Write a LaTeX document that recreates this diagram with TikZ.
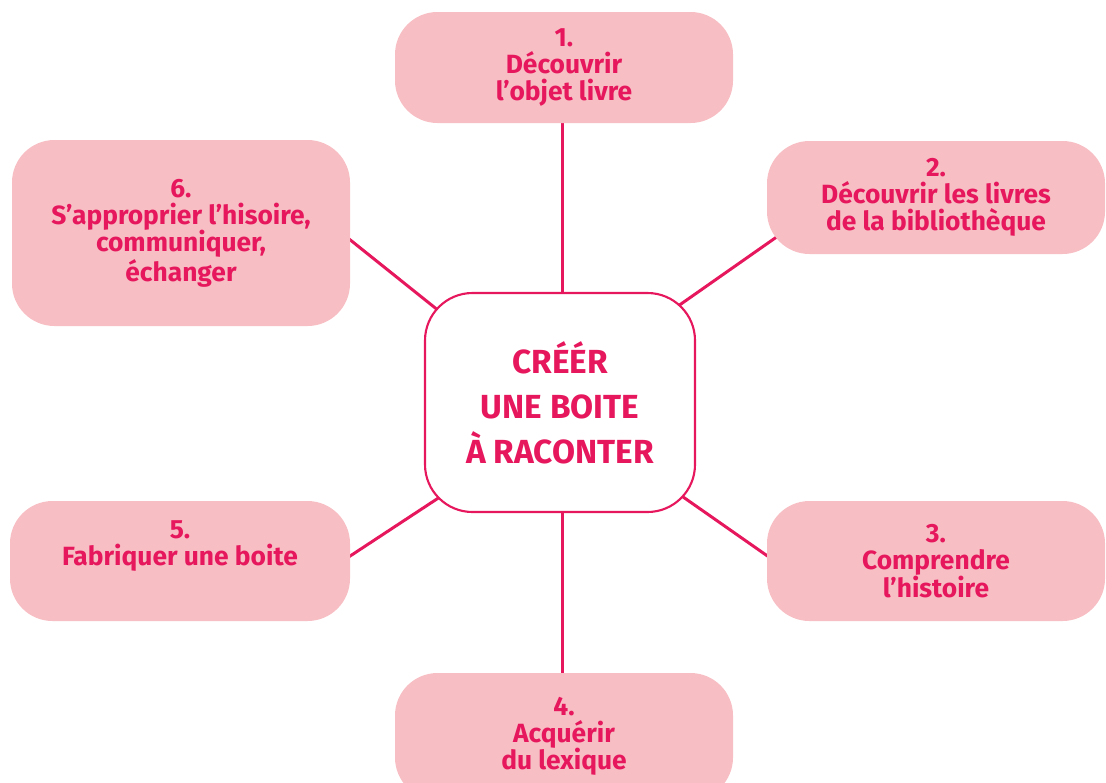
\documentclass[tikz,border=0pt]{standalone}
\usepackage{fontspec}
\setmainfont{Fira Sans}
\usepackage{tikz}
\usetikzlibrary{positioning,calc,backgrounds}
\definecolor{rose}{HTML}{F7BEC4}
\definecolor{magenta}{HTML}{E6175C}

\begin{document}
\begin{tikzpicture}[
		etape/.style={fill=rose, rounded corners=0.85cm, align=center, text=magenta,
			font=\fontsize{15}{15.5}\selectfont\bfseries, minimum width=6.76cm, inner sep=0pt},
		centre/.style={draw=magenta, line width=1.2pt, fill=white, rounded corners=0.95cm, align=center,
			text=magenta, font=\fontsize{19}{25.6}\selectfont\bfseries,
			minimum width=5.4cm, minimum height=4.38cm},
		lien/.style={draw=magenta, line width=1.7pt}]
		\useasboundingbox (0,0) rectangle (22.12,-15.64);
		\node[centre] (c) at (11.2,-8.05) {CRÉÉR\\UNE BOITE\\À RACONTER};
		\node[etape, minimum height=2.22cm] (b1) at (11.28,-1.35) {1.\\Découvrir\\l’objet livre};
		\node[etape, minimum height=2.26cm] (b2) at (18.72,-3.95) {2.\\Découvrir les livres\\de la bibliothèque};
		\node[etape, minimum height=2.4cm] (b3) at (18.72,-11.22) {3.\\Comprendre\\l’histoire};
		\node[etape, minimum height=2.54cm] (b4) at (11.28,-14.73) {4.\\Acquérir\\du lexique};
		\node[etape, minimum height=2.4cm, minimum width=6.8cm] (b5) at (3.6,-11.22) {5.\\Fabriquer une boite\\ \strut};
		\node[etape, minimum height=3.72cm] (b6) at (3.62,-4.66) {6.\\S’approprier l’hisoire,\\communiquer,\\échanger};
		\begin{scope}[on background layer]
			\draw[lien] ($(c.north)+(0.04,0)$) -- ($(c.north |- b1.south)+(0.04,0)$);
			\draw[lien] ($(c.south)+(0.04,0)$) -- ($(c.south |- b4.north)+(0.04,0)$);
			\draw[lien] ($(c.north east)+(-0.6,-0.45)$) -- ($(b2.south west)+(0.46,0.53)$);
			\draw[lien] ($(c.south east)+(-0.6,0.56)$) -- ($(b3.west)+(0.46,-0.21)$);
			\draw[lien] ($(c.south west)+(0.5,0.44)$) -- ($(b5.east)+(-0.4,-0.16)$);
			\draw[lien] ($(c.north west)+(0.5,-0.54)$) -- ($(b6.east)+(-0.4,0.18)$);
		\end{scope}
	\end{tikzpicture}
\end{document}
